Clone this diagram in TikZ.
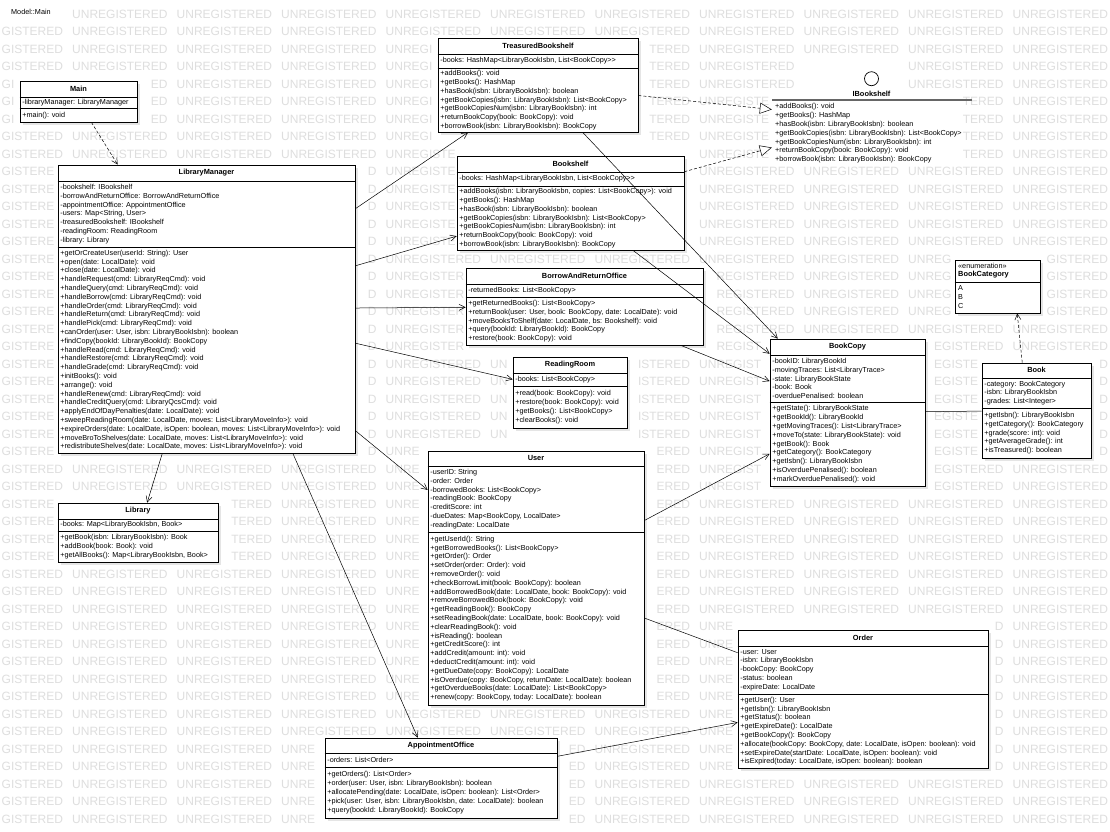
\documentclass[tikz,border=0pt]{standalone}
\usepackage{fontspec}
\setmainfont{Liberation Sans}
\usetikzlibrary{arrows.meta,calc,shadows,fit}

\tikzset{
 cls/.style={draw=black, line width=0.7pt, fill=white, inner sep=0pt,
   drop shadow={shadow xshift=2.5pt, shadow yshift=-2.5pt, fill=black!10, opacity=1}},
 ttl/.style={font=\fontsize{7.4}{8.8}\selectfont\bfseries, inner sep=0pt},
 mem/.style={font=\fontsize{7.25}{8.8}\selectfont, align=left, anchor=west, inner sep=0pt},
 sepline/.style={line width=0.6pt},
 assoc/.style={line width=0.5pt, -{Straight Barb[length=6pt,width=6pt]}},
 dep/.style={line width=0.5pt, dash pattern=on 3pt off 2pt, -{Straight Barb[length=6pt,width=6pt]}},
 real/.style={line width=0.5pt, dash pattern=on 3pt off 2pt, -{Triangle[open,length=12pt,width=11pt,fill=white]}},
 plain/.style={line width=0.5pt},
 wm/.style={font=\fontsize{12}{12}\selectfont, text=black!13, inner sep=0pt, anchor=west},
}

% areas covered by boxes and texts (the watermark is hidden there)
\newcommand\wmboxes{8/7/53/18, 20/81/141/126, 438/38/642/136, 58/165/359/457,
  457/156/688/254, 466/268/707/349, 513/357/631/432, 58/503/222/566,
  770/339/929/490, 982/363/1095/462, 428/451/648/709, 738/630/992/772,
  325/738/561/822, 955/260/1044/317, 862/70/881/87, 845/88/900/100, 772/103/958/165}
\newcommand\wmchars{U/0/8.664, N/8.664/17.328, R/17.328/25.992, E/25.992/33.996,
  G/33.996/43.332, I/43.332/46.668, S/46.668/54.672, T/54.672/62.004,
  E/62.004/70.008, R/70.008/78.672, E/78.672/86.676, D/86.676/95.34}

% #1 name, #2 title, #3 nw corner, #4 se corner, #5 first separator y, #6 second separator y, #7 attributes, #8 operations
\newcommand\uclass[8]{%
 \coordinate (#1-nw) at (#3);
 \coordinate (#1-se) at (#4);
 \node[cls, fit=(#1-nw)(#1-se)] (#1) {};
 \draw[sepline] (#1.west |- 0,#5) -- (#1.east |- 0,#5);
 \draw[sepline] (#1.west |- 0,#6) -- (#1.east |- 0,#6);
 \node[ttl] (#1-t) at ($(#1.north)!0.5!(#1.north |- 0,#5)$) {#2};
 \node[mem] (#1-a) at ($(#1.west |- 0,#5)!0.5!(#1.west |- 0,#6)+(2.5,0)$) {#7};
 \node[mem] (#1-m) at ($(#1.west |- 0,#6)!0.5!(#1.south west)+(2.5,0)$) {#8};
}

\begin{document}
\begin{tikzpicture}[x=1pt,y=-1pt]
\useasboundingbox (0,0) rectangle (1110,831);
\fill[white] (0,0) rectangle (1110,831);

% watermark: each word keeps only the letters that lie outside the boxes
\foreach \k in {0,...,46} {
  \foreach \j in {0,...,10} {
    \pgfmathsetmacro\wx{-32.5+104.5*\j}
    \pgfmathsetmacro\wy{14+17.5*\k}
    \pgfmathsetmacro\tmpL{max(\wx,0.5)}
    \pgfmathsetmacro\tmpR{min(\wx+95.34,1109.5)}
    \xdef\wmL{\tmpL}\xdef\wmR{\tmpR}
    \foreach \ax/\ay/\bx/\by in \wmboxes {
      \pgfmathparse{and(and(\wx<\bx,\wx+95.34>\ax),and(\wy-4.6<\by,\wy+4.6>\ay))}
      \ifdim\pgfmathresult pt>0.5pt
        \pgfmathparse{\ax>\wx ? min(\wmR,\ax-1.5) : \wmR}\xdef\wmR{\pgfmathresult}
        \pgfmathparse{\bx<\wx+95.34 ? max(\wmL,\bx+1.5) : \wmL}\xdef\wmL{\pgfmathresult}
        \pgfmathparse{and(\ax<=\wx,\bx>=\wx+95.34) ? 9999 : \wmL}\xdef\wmL{\pgfmathresult}
      \fi
    }
    \pgfmathsetmacro\rl{\wmL-\wx}
    \pgfmathsetmacro\rr{\wmR-\wx}
    \gdef\wmstr{}\gdef\wmstart{-1}
    \foreach \c/\s/\e in \wmchars {
      \pgfmathparse{and(\s>=\rl-0.01,\e<=\rr+0.01)}
      \ifdim\pgfmathresult pt>0.5pt
        \xdef\wmstr{\wmstr\c}
        \ifdim\wmstart pt<0pt \xdef\wmstart{\s}\fi
      \fi
    }
    \ifx\wmstr\empty\else
      \node[wm] (wm-\k-\j) at ({\wx+\wmstart},\wy) {\wmstr};
    \fi
  }
}

\node[mem] (model) at (11,12) {Model::Main};

% classes
\uclass{main}{Main}{20,81}{137,122}{97}{108}
 {-libraryManager: LibraryManager}
 {+main(): void}

\uclass{tb}{TreasuredBookshelf}{438,38}{638,132}{54}{68}
 {-books: HashMap<LibraryBookIsbn, List<BookCopy>{}>}
 {+addBooks(): void\\
  +getBooks(): HashMap\\
  +hasBook(isbn: LibraryBookIsbn): boolean\\
  +getBookCopies(isbn: LibraryBookIsbn): List<BookCopy>\\
  +getBookCopiesNum(isbn: LibraryBookIsbn): int\\
  +returnBookCopy(book: BookCopy): void\\
  +borrowBook(isbn: LibraryBookIsbn): BookCopy}

\uclass{lm}{LibraryManager}{58,165}{355,453}{181}{247}
 {-bookshelf: IBookshelf\\
  -borrowAndReturnOffice: BorrowAndReturnOffice\\
  -appointmentOffice: AppointmentOffice\\
  -users: Map<String, User>\\
  -treasuredBookshelf: IBookshelf\\
  -readingRoom: ReadingRoom\\
  -library: Library}
 {+getOrCreateUser(userId: String): User\\
  +open(date: LocalDate): void\\
  +close(date: LocalDate): void\\
  +handleRequest(cmd: LibraryReqCmd): void\\
  +handleQuery(cmd: LibraryReqCmd): void\\
  +handleBorrow(cmd: LibraryReqCmd): void\\
  +handleOrder(cmd: LibraryReqCmd): void\\
  +handleReturn(cmd: LibraryReqCmd): void\\
  +handlePick(cmd: LibraryReqCmd): void\\
  +canOrder(user: User, isbn: LibraryBookIsbn): boolean\\
  +findCopy(bookId: LibraryBookId): BookCopy\\
  +handleRead(cmd: LibraryReqCmd): void\\
  +handleRestore(cmd: LibraryReqCmd): void\\
  +handleGrade(cmd: LibraryReqCmd): void\\
  +initBooks(): void\\
  +arrange(): void\\
  +handleRenew(cmd: LibraryReqCmd): void\\
  +handleCreditQuery(cmd: LibraryQcsCmd): void\\
  +applyEndOfDayPenalties(date: LocalDate): void\\
  +sweepReadingRoom(date: LocalDate, moves: List<LibraryMoveInfo>): void\\
  +expireOrders(date: LocalDate, isOpen: boolean, moves: List<LibraryMoveInfo>): void\\
  +moveBroToShelves(date: LocalDate, moves: List<LibraryMoveInfo>): void\\
  +redistributeShelves(date: LocalDate, moves: List<LibraryMoveInfo>): void}

\uclass{bs}{Bookshelf}{457,156}{684,250}{172}{186}
 {-books: HashMap<LibraryBookIsbn, List<BookCopy>{}>}
 {+addBooks(isbn: LibraryBookIsbn, copies: List<BookCopy>): void\\
  +getBooks(): HashMap\\
  +hasBook(isbn: LibraryBookIsbn): boolean\\
  +getBookCopies(isbn: LibraryBookIsbn): List<BookCopy>\\
  +getBookCopiesNum(isbn: LibraryBookIsbn): int\\
  +returnBookCopy(book: BookCopy): void\\
  +borrowBook(isbn: LibraryBookIsbn): BookCopy}

\uclass{bro}{BorrowAndReturnOffice}{466,268}{703,345}{284}{297}
 {-returnedBooks: List<BookCopy>}
 {+getReturnedBooks(): List<BookCopy>\\
  +returnBook(user: User, book: BookCopy, date: LocalDate): void\\
  +moveBooksToShelf(date: LocalDate, bs: Bookshelf): void\\
  +query(bookId: LibraryBookId): BookCopy\\
  +restore(book: BookCopy): void}

\uclass{rr}{ReadingRoom}{513,357}{627,428}{373}{386}
 {-books: List<BookCopy>}
 {+read(book: BookCopy): void\\
  +restore(book: BookCopy): void\\
  +getBooks(): List<BookCopy>\\
  +clearBooks(): void}

\uclass{lib}{Library}{58,503}{218,562}{519}{531}
 {-books: Map<LibraryBookIsbn, Book>}
 {+getBook(isbn: LibraryBookIsbn): Book\\
  +addBook(book: Book): void\\
  +getAllBooks(): Map<LibraryBookIsbn, Book>}

\uclass{bc}{BookCopy}{770,339}{925,486}{355}{402}
 {-bookID: LibraryBookId\\
  -movingTraces: List<LibraryTrace>\\
  -state: LibraryBookState\\
  -book: Book\\
  -overduePenalised: boolean}
 {+getState(): LibraryBookState\\
  +getBookId(): LibraryBookId\\
  +getMovingTraces(): List<LibraryTrace>\\
  +moveTo(state: LibraryBookState): void\\
  +getBook(): Book\\
  +getCategory(): BookCategory\\
  +getIsbn(): LibraryBookIsbn\\
  +isOverduePenalised(): boolean\\
  +markOverduePenalised(): void}

\uclass{book}{Book}{982,363}{1091,458}{378}{408}
 {-category: BookCategory\\
  -isbn: LibraryBookIsbn\\
  -grades: List<Integer>}
 {+getIsbn(): LibraryBookIsbn\\
  +getCategory(): BookCategory\\
  +grade(score: int): void\\
  +getAverageGrade(): int\\
  +isTreasured(): boolean}

\uclass{user}{User}{428,451}{644,705}{466}{532}
 {-userID: String\\
  -order: Order\\
  -borrowedBooks: List<BookCopy>\\
  -readingBook: BookCopy\\
  -creditScore: int\\
  -dueDates: Map<BookCopy, LocalDate>\\
  -readingDate: LocalDate}
 {+getUserId(): String\\
  +getBorrowedBooks(): List<BookCopy>\\
  +getOrder(): Order\\
  +setOrder(order: Order): void\\
  +removeOrder(): void\\
  +checkBorrowLimit(book: BookCopy): boolean\\
  +addBorrowedBook(date: LocalDate, book: BookCopy): void\\
  +removeBorrowedBook(book: BookCopy): void\\
  +getReadingBook(): BookCopy\\
  +setReadingBook(date: LocalDate, book: BookCopy): void\\
  +clearReadingBook(): void\\
  +isReading(): boolean\\
  +getCreditScore(): int\\
  +addCredit(amount: int): void\\
  +deductCredit(amount: int): void\\
  +getDueDate(copy: BookCopy): LocalDate\\
  +isOverdue(copy: BookCopy, returnDate: LocalDate): boolean\\
  +getOverdueBooks(date: LocalDate): List<BookCopy>\\
  +renew(copy: BookCopy, today: LocalDate): boolean}

\uclass{order}{Order}{738,630}{988,768}{646}{694}
 {-user: User\\
  -isbn: LibraryBookIsbn\\
  -bookCopy: BookCopy\\
  -status: boolean\\
  -expireDate: LocalDate}
 {+getUser(): User\\
  +getIsbn(): LibraryBookIsbn\\
  +getStatus(): boolean\\
  +getExpireDate(): LocalDate\\
  +getBookCopy(): BookCopy\\
  +allocate(bookCopy: BookCopy, date: LocalDate, isOpen: boolean): void\\
  +setExpireDate(startDate: LocalDate, isOpen: boolean): void\\
  +isExpired(today: LocalDate, isOpen: boolean): boolean}

\uclass{ao}{AppointmentOffice}{325,738}{557,818}{753}{767}
 {-orders: List<Order>}
 {+getOrders(): List<Order>\\
  +order(user: User, isbn: LibraryBookIsbn): boolean\\
  +allocatePending(date: LocalDate, isOpen: boolean): List<Order>\\
  +pick(user: User, isbn: LibraryBookIsbn, date: LocalDate): boolean\\
  +query(bookId: LibraryBookId): BookCopy}

% enumeration
\coordinate (cat-nw) at (955,260);
\coordinate (cat-se) at (1040,313);
\node[cls, fit=(cat-nw)(cat-se)] (cat) {};
\draw[sepline] (cat.west |- 0,282) -- (cat.east |- 0,282);
\node[mem] (cat-s) at (958,266) {«enumeration»};
\node[ttl, anchor=west] (cat-t) at (958,275) {BookCategory};
\node[mem] (cat-l) at (958,297) {A\\B\\C};

% interface
\node[draw=none, inner sep=0pt, fit={(772,72) (972,168)}] (ib) {};
\node[draw, circle, minimum size=14pt, inner sep=0pt, line width=0.7pt, fill=white] (ib-c) at (871.5,78.7) {};
\node[ttl] (ib-t) at (871.5,94) {IBookshelf};
\draw[line width=1.4pt, black!60] (772,99.8) -- (972,99.8);
\node[mem] (ib-m) at (775,133.5)
 {+addBooks(): void\\
  +getBooks(): HashMap\\
  +hasBook(isbn: LibraryBookIsbn): boolean\\
  +getBookCopies(isbn: LibraryBookIsbn): List<BookCopy>\\
  +getBookCopiesNum(isbn: LibraryBookIsbn): int\\
  +returnBookCopy(book: BookCopy): void\\
  +borrowBook(isbn: LibraryBookIsbn): BookCopy};

% connectors
\draw[dep] (main) -- (lm);
\draw[assoc] (lm) -- (tb);
\draw[assoc] (lm) -- (bs);
\draw[assoc] (lm) -- (bro);
\draw[assoc] (lm) -- (rr);
\draw[assoc] (lm) -- (user);
\draw[assoc] (lm) -- (lib);
\draw[assoc] ($(lm.south west)!0.79!(lm.south east)$) -- ($(ao.north west)!0.40!(ao.north east)$);
\draw[real] (tb) -- (ib);
\draw[real] (bs) -- (ib);
\draw[assoc] (tb) -- (bc);
\draw[assoc] (bs) -- (bc);
\draw[assoc] (bro) -- (bc);
\draw[assoc] (user) -- (bc);
\draw[plain] (user) -- (order);
\draw[assoc] (ao) -- (order);
\draw[plain] (bc) -- (book);
\draw[dep] ($(book.north west)!0.37!(book.north east)$) -- ($(cat.south west)!0.73!(cat.south east)$);
\end{tikzpicture}
\end{document}
